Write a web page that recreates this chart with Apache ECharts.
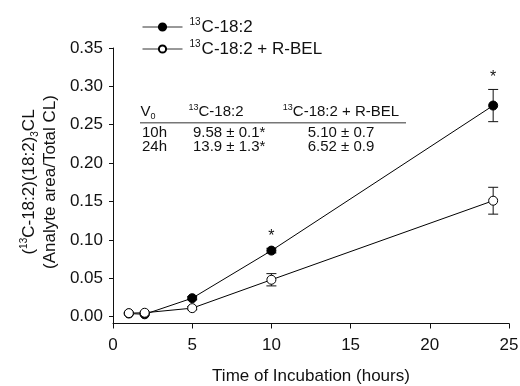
<!DOCTYPE html>
<html>
<head>
<meta charset="utf-8">
<script src="https://cdn.jsdelivr.net/npm/echarts@6/dist/echarts.min.js"></script>
<style>html,body{margin:0;padding:0;background:#fff}#c{width:520px;height:386px}</style>
</head>
<body>
<div id="c"></div>
<script>
// ---- data ----
var hours = [1, 2, 5, 10, 24];
var ctrlMean = [0.004, 0.003, 0.024, 0.086, 0.275];
var ctrlErr  = [0.001, 0.001, 0.002, 0.003, 0.021];
var ctrlSig  = [false, false, false, true, true];
var belMean  = [0.0045, 0.005, 0.011, 0.048, 0.151];
var belErr   = [0.001, 0.001, 0.002, 0.008, 0.0175];
var belSig   = [false, false, false, false, false];
var seriesNames = ['13C-18:2', '13C-18:2 + R-BEL'];
var yTicks = [0, 0.05, 0.10, 0.15, 0.20, 0.25, 0.30, 0.35];
var xTicks = [0, 5, 10, 15, 20, 25];
var tableHeader = ['V0', '13C-18:2', '13C-18:2 + R-BEL'];
var tableRowLabels = ['10h', '24h'];
var tableCtrl = ['9.58 ± 0.1*', '13.9 ± 1.3*'];
var tableBel = ['5.10 ± 0.7', '6.52 ± 0.9'];

var FONT = '"Liberation Sans", Arial, Helvetica, sans-serif';
var INK = '#111';

function pairs(xs, ys) { return xs.map(function (x, i) { return [x, ys[i]]; }); }
function errData(xs, m, e, s) { return xs.map(function (x, i) { return [x, m[i], e[i], s[i] ? 1 : 0]; }); }

function errRender(params, api) {
  var x = api.value(0), m = api.value(1), e = api.value(2), sig = api.value(3);
  var top = api.coord([x, m + e]);
  var bot = api.coord([x, m - e]);
  var cap = 5;
  var st = { stroke: INK, lineWidth: 1 };
  var children = [
    { type: 'line', shape: { x1: top[0], y1: top[1], x2: bot[0], y2: bot[1] }, style: st },
    { type: 'line', shape: { x1: top[0] - cap, y1: top[1], x2: top[0] + cap, y2: top[1] }, style: st },
    { type: 'line', shape: { x1: bot[0] - cap, y1: bot[1], x2: bot[0] + cap, y2: bot[1] }, style: st }
  ];
  if (sig) {
    children.push({ type: 'text', x: top[0], y: top[1] - 12,
      style: { text: '*', fill: INK, font: '16px ' + FONT, align: 'center', verticalAlign: 'middle' } });
  }
  return { type: 'group', children: children };
}

var supRich = {
  n: { fontSize: 17, fontFamily: FONT, color: INK, lineHeight: 20 },
  sup: { fontSize: 10, fontFamily: FONT, color: INK, lineHeight: 20, verticalAlign: 'top', padding: [0, 1, 0, 0] },
  sub: { fontSize: 10, fontFamily: FONT, color: INK, lineHeight: 20, verticalAlign: 'bottom' },
  t: { fontSize: 15, fontFamily: FONT, color: INK, lineHeight: 18 },
  tsup: { fontSize: 9, fontFamily: FONT, color: INK, lineHeight: 18, verticalAlign: 'top' },
  tsub: { fontSize: 9, fontFamily: FONT, color: INK, lineHeight: 18, verticalAlign: 'bottom' }
};

function supName(name) { return '{sup|13}{n|' + name.slice(2) + '}'; }
function tsupName(name) { return '{tsup|13}{t|' + name.slice(2) + '}'; }

function tText(x, y, txt, align) {
  return { type: 'text', x: x, y: y, z: 10,
    style: { text: txt, rich: supRich, align: align || 'center', verticalAlign: 'middle', fill: INK } };
}

var chart = echarts.init(document.getElementById('c'), null, { renderer: 'canvas' });
var option = {
  animation: false,
  backgroundColor: '#fff',
  textStyle: { fontFamily: FONT, color: INK },
  grid: { left: 113, right: 11, top: 48, bottom: 62.5, containLabel: false, outerBoundsMode: 'none' },
  legend: {
    orient: 'vertical', left: 142, top: 17, padding: 0, itemWidth: 40, itemHeight: 9, itemGap: 3.5,
    data: seriesNames,
    lineStyle: { width: 1, color: '#333' },
    formatter: function (name) { return supName(name); },
    textStyle: { rich: supRich, padding: [0, 0, 0, 2] }
  },
  xAxis: {
    type: 'value', min: 0, max: 25, interval: 5,
    axisLine: { onZero: false, lineStyle: { color: INK, width: 1 } },
    axisTick: { length: 5, lineStyle: { color: INK } },
    axisLabel: { fontSize: 17, color: INK, margin: 13, fontFamily: FONT },
    splitLine: { show: false },
    name: 'Time of Incubation (hours)', nameLocation: 'middle', nameGap: 44,
    nameTextStyle: { fontSize: 17, color: INK, fontFamily: FONT }
  },
  yAxis: {
    type: 'value', min: -0.009, max: 0.35,
    axisLine: { show: true, onZero: false, lineStyle: { color: INK, width: 1 } },
    axisTick: { show: true, length: 4, customValues: yTicks, lineStyle: { color: INK } },
    axisLabel: { fontSize: 17, color: INK, margin: 10, fontFamily: FONT, customValues: yTicks,
      formatter: function (v) { return v.toFixed(2); } },
    splitLine: { show: false }
  },
  graphic: [
    { type: 'text', x: 40, y: 182, rotation: Math.PI / 2,
      style: { text: '{n|(}{sup|13}{n|C-18:2)(18:2)}{sub|3}{n|CL}\n{n|(Analyte area/Total CL)}',
        rich: { n: { fontSize: 17, fontFamily: FONT, color: INK, lineHeight: 21 },
                sup: { fontSize: 10, fontFamily: FONT, color: INK, lineHeight: 21, verticalAlign: 'top' },
                sub: { fontSize: 10, fontFamily: FONT, color: INK, lineHeight: 21, verticalAlign: 'bottom' } },
        align: 'center', verticalAlign: 'middle', fill: INK } },
    tText(148, 112, '{t|V}{tsub|0}'),
    tText(216, 112, tsupName(tableHeader[1])),
    tText(341, 112, tsupName(tableHeader[2])),
    { type: 'line', z: 10, shape: { x1: 140, y1: 122.7, x2: 406, y2: 122.7 }, style: { stroke: '#777', lineWidth: 1.5 } },
    tText(167, 132.5, '{t|' + tableRowLabels[0] + '}', 'right'),
    tText(167, 147, '{t|' + tableRowLabels[1] + '}', 'right'),
    tText(193, 132.5, '{t|' + tableCtrl[0] + '}', 'left'),
    tText(193, 147, '{t|' + tableCtrl[1] + '}', 'left'),
    tText(341, 132.5, '{t|' + tableBel[0] + '}'),
    tText(341, 147, '{t|' + tableBel[1] + '}')
  ],
  series: [
    { type: 'custom', name: 'errCtrl', renderItem: errRender, data: errData(hours, ctrlMean, ctrlErr, ctrlSig), z: 2, silent: true },
    { type: 'custom', name: 'errBel', renderItem: errRender, data: errData(hours, belMean, belErr, belSig), z: 2, silent: true },
    { type: 'line', name: seriesNames[0], data: pairs(hours, ctrlMean), symbol: 'circle', symbolSize: 9,
      itemStyle: { color: '#000', borderColor: '#000', borderWidth: 1 },
      lineStyle: { color: '#000', width: 1 }, z: 3 },
    { type: 'line', name: seriesNames[1], data: pairs(hours, belMean), symbol: 'circle', symbolSize: 9,
      itemStyle: { color: '#fff', borderColor: '#000', borderWidth: 1 },
      lineStyle: { color: '#000', width: 1 }, z: 4 }
  ]
};
chart.setOption(option);
</script>
</body>
</html>
